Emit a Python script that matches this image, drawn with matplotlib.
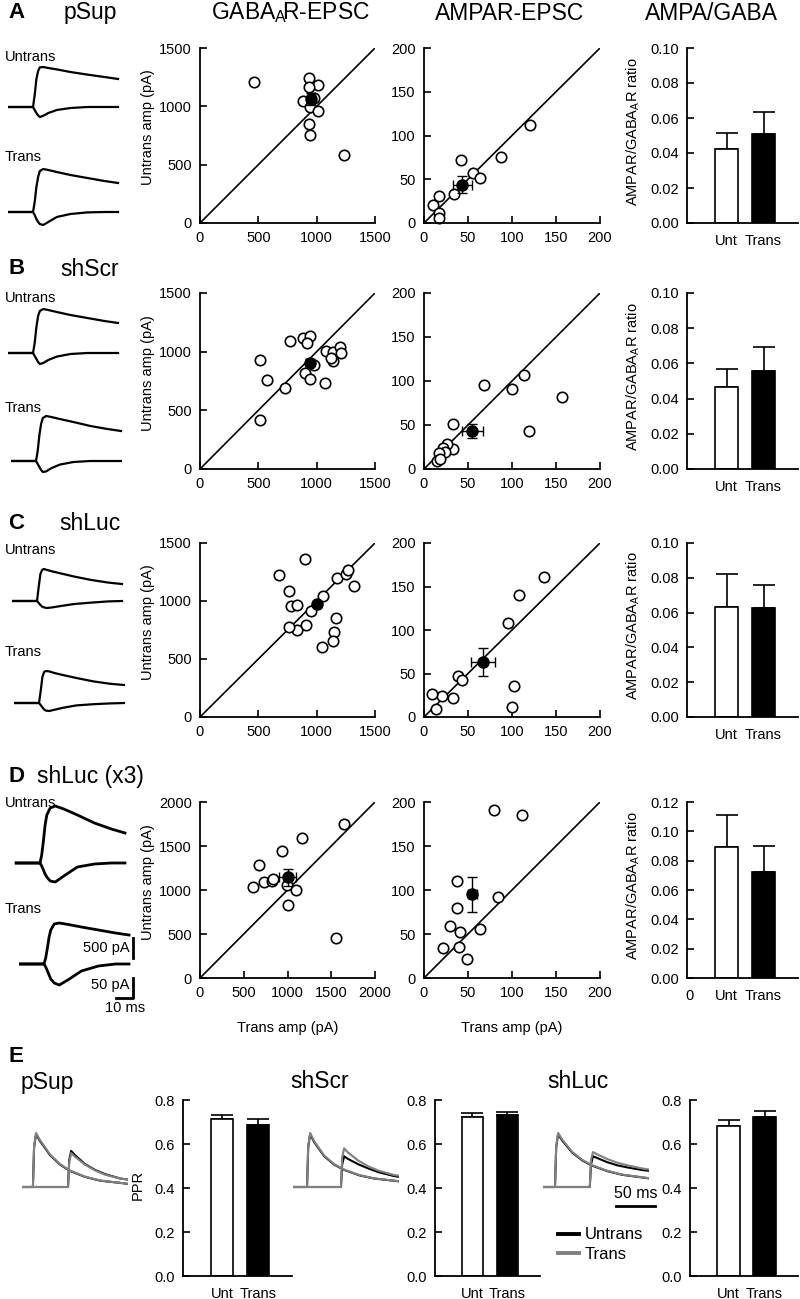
"""Recreate the multi-panel figure: example traces, amplitude scatter plots,
AMPA/GABA ratio bars and paired-pulse ratio bars."""
import numpy as np
import matplotlib
matplotlib.use("Agg")
import matplotlib.pyplot as plt
from matplotlib.lines import Line2D

plt.rcParams['font.family'] = ['Liberation Sans', 'DejaVu Sans']
plt.rcParams['mathtext.fontset'] = 'custom'
plt.rcParams['mathtext.rm'] = 'Liberation Sans'

# ---------------------------------------------------------------- data
ROWS = ['pSup', 'shScr', 'shLuc', 'shLuc (x3)']
LETTERS = ['A', 'B', 'C', 'D']

# example EPSC traces: ms from stimulus, GABA in pA (up), AMPA in pA (down)
TRACE_T = [-14, 0, 1, 2, 3, 4, 6, 9, 14, 22, 32, 42, 50]
A_UNT_GABA = [0, 0, 300, 700, 900, 990, 1000, 975, 940, 875, 810, 750, 700]
A_UNT_AMPA = [0, 0, -7.5, -15, -21, -25, -22, -15, -7.5, -2.5, 0, 0, 0]
A_TR_GABA = [0, 0, 250, 625, 875, 1025, 1075, 1050, 1000, 925, 850, 775, 725]
A_TR_AMPA = [0, 0, -7.5, -17.5, -25, -30, -32.5, -25, -12.5, -5, -1, 0, 0]
B_UNT_GABA = [0, 0, 250, 650, 925, 1050, 1100, 1075, 1025, 950, 875, 800, 750]
B_UNT_AMPA = [0, 0, -7.5, -15, -22.5, -27.5, -25, -17.5, -9, -2.5, 0, 0, 0]
B_TR_GABA = [0, 0, 250, 650, 925, 1075, 1125, 1100, 1050, 975, 875, 800, 750]
B_TR_AMPA = [0, 0, -7.5, -15, -22.5, -27.5, -26, -18, -9, -2.5, 0, 0, 0]
C_UNT_GABA = [0, 0, 350, 675, 775, 800, 775, 740, 690, 610, 525, 460, 425]
C_UNT_AMPA = [0, 0, -5, -10, -14, -16, -17.5, -16, -12.5, -7.5, -4, -1, 0]
C_TR_GABA = [0, 0, 300, 650, 775, 800, 790, 750, 700, 625, 540, 480, 450]
C_TR_AMPA = [0, 0, -5, -11, -16, -19, -20, -17, -12, -6, -3, -1, 0]
D_UNT_GABA = [0, 0, 200, 550, 950, 1200, 1375, 1425, 1350, 1200, 1000, 850, 750]
D_UNT_AMPA = [0, 0, -7.5, -17.5, -27.5, -35, -45, -47.5, -32.5, -10, -2.5, 0, 0]
D_TR_GABA = [0, 0, 150, 400, 675, 850, 1000, 1025, 990, 925, 850, 775, 725]
D_TR_AMPA = [0, 0, -7.5, -17.5, -27.5, -37.5, -47.5, -52.5, -40, -17.5, -5, 0, 0]
GABA_DISPLAY_DIV = 10  # GABA traces drawn at 1/10 of the AMPA scale

# GABA_A R-EPSC amplitudes (pA): x = Trans, y = Untrans
A_GABA_TR = [467, 931, 1010, 931, 882, 973, 939, 1008, 934, 939, 1235]
A_GABA_UNT = [1210, 1245, 1181, 1164, 1050, 1070, 992, 961, 852, 757, 579]
B_GABA_TR = [769, 882, 945, 919, 518, 575, 518, 731, 897, 939, 1073, 1082,
             1144, 1201, 1207, 1139, 1124, 979]
B_GABA_UNT = [1093, 1113, 1133, 1071, 929, 759, 419, 691, 822, 771, 731, 1003,
              994, 1037, 986, 921, 949, 887]
C_GABA_TR = [900, 677, 763, 777, 834, 949, 1057, 1171, 1251, 1271, 1323, 1163,
             1149, 1137, 1049, 906, 834, 766]
C_GABA_UNT = [1366, 1220, 1083, 954, 969, 914, 1043, 1194, 1237, 1269, 1129, 854,
              731, 654, 600, 789, 746, 774]
D_GABA_TR = [1642, 1170, 937, 670, 610, 735, 827, 830, 990, 1097, 1002, 1550]
D_GABA_UNT = [1746, 1587, 1443, 1280, 1030, 1087, 1106, 1129, 1057, 996, 830, 451]
GABA_MEAN = [(950, 1065), (939, 906), (1000, 977), (1002, 1144)]
GABA_SEM = [(35, 50), (30, 30), (25, 25), (95, 98)]
GABA_LIM = [1500, 1500, 1500, 2000]

# AMPAR-EPSC amplitudes (pA)
A_AMPA_TR = [120, 87, 41.7, 56, 63.6, 34.5, 16.7, 10.6, 17.4, 16.7]
A_AMPA_UNT = [112, 75, 72, 56.6, 51, 33, 30.6, 21, 12, 6]
B_AMPA_TR = [113.6, 68, 100, 157, 32.6, 119, 33, 25.8, 22, 24, 16.7, 14.4, 18]
B_AMPA_UNT = [107, 96, 91, 82, 51, 43, 23, 28.6, 23.7, 19, 18, 9, 11]
C_AMPA_TR = [136, 108, 96, 39, 43.6, 32.6, 20.8, 9, 14, 102.6, 99.6]
C_AMPA_UNT = [161, 140, 107.6, 47.7, 42.7, 22, 23.7, 26.7, 9.5, 36, 11.5]
D_AMPA_TR = [79.5, 111, 37.9, 37.9, 29.5, 41, 63.6, 22, 39.4, 49, 84.5]
D_AMPA_UNT = [190.6, 185, 110, 80, 59.6, 52.5, 56, 34, 34.7, 22, 91.7]
AMPA_MEAN = [(43.6, 44), (55, 43), (67, 63), (55, 95)]
AMPA_SEM = [(11, 10), (12, 8), (14, 16), (5, 20)]

# AMPAR/GABA_A R ratio
RATIO_UNT = [0.0423, 0.0465, 0.0632, 0.089]
RATIO_UNT_ERR = [0.0089, 0.0105, 0.0191, 0.022]
RATIO_TR = [0.0507, 0.0554, 0.0625, 0.0722]
RATIO_TR_ERR = [0.013, 0.0138, 0.0133, 0.0178]
RATIO_TOP = [0.10, 0.10, 0.10, 0.12]

# panel E: paired-pulse traces (ms from pulse, normalised to first peak)
E_GROUPS = ['pSup', 'shScr', 'shLuc']
E_REL = [-70, 0, 1.5, 4, 9, 22, 35, 48, 67, 86, 122]
E_PULSES = [(14, 59), (18, 61.5), (15.4, 60)]
PSUP_FIRST = [0, 0, 0.75, 1.0, 0.87, 0.6, 0.42, 0.3, 0.19, 0.12, 0.06]
PSUP_SECOND_UNT = [0, 0, 0.5, 0.68, 0.6, 0.43, 0.32, 0.24, 0.16, 0.12, 0.08]
PSUP_SECOND_TR = [0, 0, 0.45, 0.64, 0.57, 0.42, 0.31, 0.23, 0.16, 0.12, 0.08]
SHSCR_FIRST = [0, 0, 0.75, 1.0, 0.85, 0.58, 0.42, 0.32, 0.22, 0.16, 0.1]
SHSCR_SECOND_UNT = [0, 0, 0.42, 0.58, 0.53, 0.43, 0.35, 0.28, 0.21, 0.16, 0.12]
SHSCR_SECOND_TR = [0, 0, 0.55, 0.73, 0.65, 0.5, 0.39, 0.31, 0.23, 0.18, 0.14]
SHLUC_FIRST = [0, 0, 0.75, 1.0, 0.88, 0.65, 0.5, 0.4, 0.3, 0.23, 0.16]
SHLUC_SECOND_UNT = [0, 0, 0.42, 0.58, 0.55, 0.47, 0.41, 0.37, 0.32, 0.29, 0.25]
SHLUC_SECOND_TR = [0, 0, 0.5, 0.66, 0.62, 0.53, 0.46, 0.41, 0.35, 0.31, 0.27]

# paired-pulse ratio
PPR_UNT = [0.7125, 0.724, 0.683]
PPR_UNT_ERR = [0.02, 0.016, 0.026]
PPR_TR = [0.687, 0.732, 0.7215]
PPR_TR_ERR = [0.026, 0.015, 0.0275]

BAR_LABELS = ['Unt', 'Trans']
GREY = '#808080'

# ---------------------------------------------------------------- layout (px)
W, H = 800, 1299
ROW_TOP = [48, 293, 543, 802]
ROW_BOT = [223, 469, 717, 978]
TITLE_Y = [13, 269, 523, 777]
UNT_LABEL_Y = [57, 298, 550, 803]
TR_LABEL_Y = [157, 408, 652, 909]
TRACE_ONSET = [(33, 33), (33, 36), (37, 39), (40, 44)]
TRACE_BASE = [(107, 212), (353, 461), (601, 703), (863, 964)]
E_TRACE_X = [22, 293, 543]
E_BAR_X = [(183, 292), (435, 540), (690, 798)]


def px_axes(fig, left, top, right, bottom):
    return fig.add_axes([left / W, 1 - bottom / H, (right - left) / W,
                         (bottom - top) / H])


def fig_text(fig, x, y, s, **kw):
    kw.setdefault('ha', 'center')
    kw.setdefault('va', 'center')
    fig.text(x / W, 1 - y / H, s, **kw)


def style_axes(ax):
    for side in ['top', 'right']:
        ax.spines[side].set_visible(False)
    for side in ['left', 'bottom']:
        ax.spines[side].set_linewidth(1.3)
    ax.tick_params(direction='in', length=5, width=1.2, labelsize=10.5, pad=6)


def scatter_panel(ax, trans, untrans, mean, sem, lim, step):
    ax.plot([0, lim], [0, lim], color='black', lw=1.2, zorder=1)
    ax.plot(trans, untrans, 'o', mfc='white', mec='black', ms=7.5, mew=1.2,
            zorder=2, clip_on=False)
    ax.errorbar(mean[0], mean[1], xerr=sem[0], yerr=sem[1], fmt='o',
                color='black', ms=8, elinewidth=1, capsize=3.5, capthick=1,
                zorder=3)
    ax.set_xlim(0, lim)
    ax.set_ylim(0, lim)
    ticks = np.arange(0, lim + 1, step)
    ax.set_xticks(ticks)
    ax.set_yticks(ticks)
    style_axes(ax)


def bar_panel(ax, unt, unt_err, tr, tr_err, top, step, fmt):
    ax.bar([1, 2], [unt, tr], width=0.62, color=['white', 'black'],
           edgecolor='black', linewidth=1.2, zorder=2)
    ax.errorbar([1, 2], [unt, tr], yerr=[[0, 0], [unt_err, tr_err]], fmt='none',
                ecolor='black', elinewidth=1.2, capsize=8, capthick=1.2, zorder=1)
    ax.set_xlim(-0.07, 2.93)
    ax.set_ylim(0, top)
    ticks = np.arange(0, top + step / 2, step)
    ax.set_yticks(ticks)
    ax.set_yticklabels([fmt.format(t) for t in ticks])
    ax.set_xticks([1, 2])
    ax.set_xticklabels(BAR_LABELS)
    style_axes(ax)
    ax.tick_params(axis='x', length=0, pad=8)


fig = plt.figure(figsize=(W / 100, H / 100), dpi=100)

trace_sets = [
    (A_UNT_GABA, A_UNT_AMPA, A_TR_GABA, A_TR_AMPA),
    (B_UNT_GABA, B_UNT_AMPA, B_TR_GABA, B_TR_AMPA),
    (C_UNT_GABA, C_UNT_AMPA, C_TR_GABA, C_TR_AMPA),
    (D_UNT_GABA, D_UNT_AMPA, D_TR_GABA, D_TR_AMPA),
]
gaba_sets = [(A_GABA_TR, A_GABA_UNT), (B_GABA_TR, B_GABA_UNT),
             (C_GABA_TR, C_GABA_UNT), (D_GABA_TR, D_GABA_UNT)]
ampa_sets = [(A_AMPA_TR, A_AMPA_UNT), (B_AMPA_TR, B_AMPA_UNT),
             (C_AMPA_TR, C_AMPA_UNT), (D_AMPA_TR, D_AMPA_UNT)]

px_per_ms = 1.7
px_per_unit = 0.4
trace_t = np.array(TRACE_T)

for i in range(4):
    top, bot = ROW_TOP[i], ROW_BOT[i]
    fig_text(fig, 8, TITLE_Y[i], LETTERS[i], fontsize=16, fontweight='bold', ha='left')
    fig_text(fig, 90, TITLE_Y[i], ROWS[i], fontsize=16.5)
    fig_text(fig, 5, UNT_LABEL_Y[i], 'Untrans', fontsize=10.5, ha='left')
    fig_text(fig, 5, TR_LABEL_Y[i], 'Trans', fontsize=10.5, ha='left')

    # example traces
    ug, ua, tg, ta = trace_sets[i]
    lw = 2.0 if i == 3 else 1.6
    tr_axes = []
    for (gaba, ampa), onset, base in zip([(ug, ua), (tg, ta)], TRACE_ONSET[i],
                                         TRACE_BASE[i]):
        tax = px_axes(fig, onset - 15 * px_per_ms, base - 60,
                      onset + 55 * px_per_ms, base + 40)
        tax.plot(trace_t, np.array(gaba) / GABA_DISPLAY_DIV, color='black', lw=lw,
                 solid_joinstyle='round')
        tax.plot(trace_t, ampa, color='black', lw=lw, solid_joinstyle='round')
        tax.set_xlim(-15, 55)
        tax.set_ylim(-40 / px_per_unit, 60 / px_per_unit)
        tax.axis('off')
        tr_axes.append(tax)

    # GABA scatter
    ax = px_axes(fig, 200, top, 375, bot)
    lim = GABA_LIM[i]
    scatter_panel(ax, gaba_sets[i][0], gaba_sets[i][1], GABA_MEAN[i], GABA_SEM[i],
                  lim, 500)
    fig_text(fig, 148, (top + bot) / 2 - 8, 'Untrans amp (pA)', fontsize=10.5,
             rotation=90)

    # AMPA scatter
    ax = px_axes(fig, 424, top, 600, bot)
    scatter_panel(ax, ampa_sets[i][0], ampa_sets[i][1], AMPA_MEAN[i], AMPA_SEM[i],
                  200, 50)

    # ratio bars
    ax = px_axes(fig, 687, top, 798, bot)
    bar_panel(ax, RATIO_UNT[i], RATIO_UNT_ERR[i], RATIO_TR[i], RATIO_TR_ERR[i],
              RATIO_TOP[i], 0.02, '{:.2f}')
    if i == 3:
        ax.set_xticks([0, 1, 2])
        ax.set_xticklabels(['0'] + BAR_LABELS)
    fig_text(fig, 633, (top + bot) / 2 - 4, r'AMPAR/GABA$_\mathregular{A}$R ratio',
             fontsize=10.5, rotation=90)

# scale bars on the D trans trace
sax = tr_axes[1]
sax.plot([52.4, 52.4], [15, 65], color='black', lw=2, clip_on=False)
sax.plot([42.4, 52.4, 52.4], [-85, -85, -35], color='black', lw=2, clip_on=False)
sax.text(50.5, 40, '500 pA', ha='right', va='center', fontsize=10.5)
sax.text(50.5, -52.5, '50 pA', ha='right', va='center', fontsize=10.5)
sax.text(47.4, -110, '10 ms', ha='center', va='center', fontsize=10.5)

fig_text(fig, 290, 13, r'GABA$_\mathregular{A}\!$R-EPSC', fontsize=16.5)
fig_text(fig, 510, 13, 'AMPAR-EPSC', fontsize=16.5)
fig_text(fig, 711, 13, 'AMPA/GABA', fontsize=16.5)
fig_text(fig, 288, 1028, 'Trans amp (pA)', fontsize=10.5)
fig_text(fig, 512, 1028, 'Trans amp (pA)', fontsize=10.5)

# ---------------------------------------------------------------- panel E
fig_text(fig, 8, 1057, 'E', fontsize=16, fontweight='bold', ha='left')
e_title_x = [47, 320, 578]
e_traces = [
    (PSUP_FIRST, PSUP_SECOND_UNT, PSUP_SECOND_TR),
    (SHSCR_FIRST, SHSCR_SECOND_UNT, SHSCR_SECOND_TR),
    (SHLUC_FIRST, SHLUC_SECOND_UNT, SHLUC_SECOND_TR),
]
e_rel = np.array(E_REL)
e_px_per_ms = 0.78
e_base, e_amp_px = 1187, 53
for k in range(3):
    fig_text(fig, e_title_x[k], 1082, E_GROUPS[k], fontsize=16.5)
    x0 = E_TRACE_X[k]
    tax = px_axes(fig, x0, 1120, x0 + 136 * e_px_per_ms, 1200)
    first, second_unt, second_tr = e_traces[k]
    p1, p2 = E_PULSES[k]
    tax.plot(p1 + e_rel, first, color='black', lw=1.5)
    tax.plot(p2 + e_rel, second_unt, color='black', lw=1.5)
    tax.plot(p1 + e_rel, np.array(first) * 1.02, color=GREY, lw=1.5)
    tax.plot(p2 + e_rel, second_tr, color=GREY, lw=1.5)
    tax.set_xlim(0, 136)
    tax.set_ylim(-(1200 - e_base) / e_amp_px, (e_base - 1120) / e_amp_px)
    tax.axis('off')
    if k == 2:
        y_bar = -(1206 - e_base) / e_amp_px
        tax.plot([93.6, 143.6], [y_bar, y_bar], color='black', lw=2, clip_on=False)
        tax.text(118.6, -(1194 - e_base) / e_amp_px, '50 ms', ha='center',
                 va='center', fontsize=11.5)

    lo, hi = E_BAR_X[k]
    ax = px_axes(fig, lo, 1100, hi, 1276)
    bar_panel(ax, PPR_UNT[k], PPR_UNT_ERR[k], PPR_TR[k], PPR_TR_ERR[k],
              0.8, 0.2, '{:.1f}')

fig_text(fig, 138, 1185, 'PPR', fontsize=10.5, rotation=90)

handles = [Line2D([], [], color='black', lw=2.8), Line2D([], [], color=GREY, lw=2.8)]
fig.legend(handles, ['Untrans', 'Trans'], loc='center left',
           bbox_to_anchor=(558 / W, 1 - 1244.5 / H), frameon=False, fontsize=12,
           handlelength=1.25, handletextpad=0.35, labelspacing=0.25,
           borderpad=0, borderaxespad=0)

fig.savefig('out.png', dpi=100)
